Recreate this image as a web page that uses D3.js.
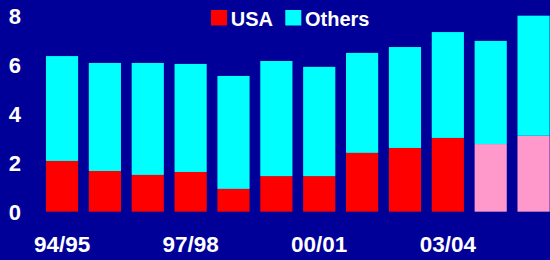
<!DOCTYPE html>
<html>
<head>
<meta charset="utf-8">
<script src="https://cdn.jsdelivr.net/npm/d3@7"></script>
<style>
  html, body { margin: 0; padding: 0; background: #000099; }
  svg { display: block; }
  text { font-family: "Liberation Sans", Arial, Helvetica, sans-serif; font-weight: bold; fill: #ffffff; }
</style>
</head>
<body>
<svg id="chart" width="550" height="260"></svg>
<script>
const categories = ["94/95","95/96","96/97","97/98","98/99","99/00","00/01","01/02","02/03","03/04","04/05","05/06"];
const usaValues = [2.07, 1.66, 1.50, 1.62, 0.93, 1.45, 1.45, 2.40, 2.60, 3.01, 2.76, 3.10];
const othersValues = [4.28, 4.41, 4.57, 4.41, 4.61, 4.70, 4.46, 4.08, 4.12, 4.32, 4.21, 4.90];
const projected = [false, false, false, false, false, false, false, false, false, false, true, true];
const yTicks = [0, 2, 4, 6, 8];
const xTickLabels = ["94/95", "97/98", "00/01", "03/04"];
const seriesNames = ["USA", "Others"];

const svg = d3.select("#chart");
const W = 550, H = 260;
svg.append("rect").attr("width", W).attr("height", H).attr("fill", "#000099");

const x = d3.scaleBand().domain(categories).range([40.6, 555]).paddingInner(0.25).paddingOuter(0.125);
const y = d3.scaleLinear().domain([0, 8]).range([211.67, 15.67]);

const colors = { USA: "#ff0000", USAproj: "#ff99cc", Others: "#00ffff" };

const rows = categories.map((c, i) => ({ cat: c, USA: usaValues[i], Others: othersValues[i], proj: projected[i] }));
const stacked = d3.stack().keys(seriesNames)(rows);

svg.append("g").selectAll("g").data(stacked).join("g")
  .each(function(layer) {
    d3.select(this).selectAll("rect").data(layer).join("rect")
      .attr("x", d => x(d.data.cat))
      .attr("width", x.bandwidth())
      .attr("y", d => y(d[1]))
      .attr("height", d => y(d[0]) - y(d[1]))
      .attr("fill", d => layer.key === "USA" ? (d.data.proj ? colors.USAproj : colors.USA) : colors.Others);
  });

// Y axis labels
const yAxis = d3.axisLeft(y).tickValues(yTicks).tickSize(0).tickFormat(d3.format("d"));
const yg = svg.append("g").attr("transform", "translate(21,0)").call(yAxis);
yg.select(".domain").remove();
yg.selectAll("text").attr("x", 0).attr("dy", "0.35em")
  .attr("text-anchor", "end").style("font-size", "22px")
  .style("font-family", "'Liberation Sans', Arial, sans-serif").style("font-weight", "bold").attr("fill", "#fff");

// X axis labels
const xAxis = d3.axisBottom(x).tickValues(xTickLabels).tickSize(0);
const xg = svg.append("g").attr("transform", "translate(0,236.5)").call(xAxis);
xg.select(".domain").remove();
xg.selectAll("text").attr("y", 0).attr("dy", "0.71em")
  .style("font-size", "22.5px")
  .style("font-family", "'Liberation Sans', Arial, sans-serif").style("font-weight", "bold").attr("fill", "#fff");

// Legend
const legend = [
  { name: "USA", color: colors.USA, x: 211, tx: 230.8 },
  { name: "Others", color: colors.Others, x: 285.3, tx: 305 }
];
const lg = svg.append("g");
lg.selectAll("rect").data(legend).join("rect")
  .attr("x", d => d.x).attr("y", 10).attr("width", 16).attr("height", 15.5).attr("fill", d => d.color);
lg.selectAll("text").data(legend).join("text")
  .attr("x", d => d.tx).attr("y", 25.5).style("font-size", "20px").text(d => d.name);
</script>
</body>
</html>
